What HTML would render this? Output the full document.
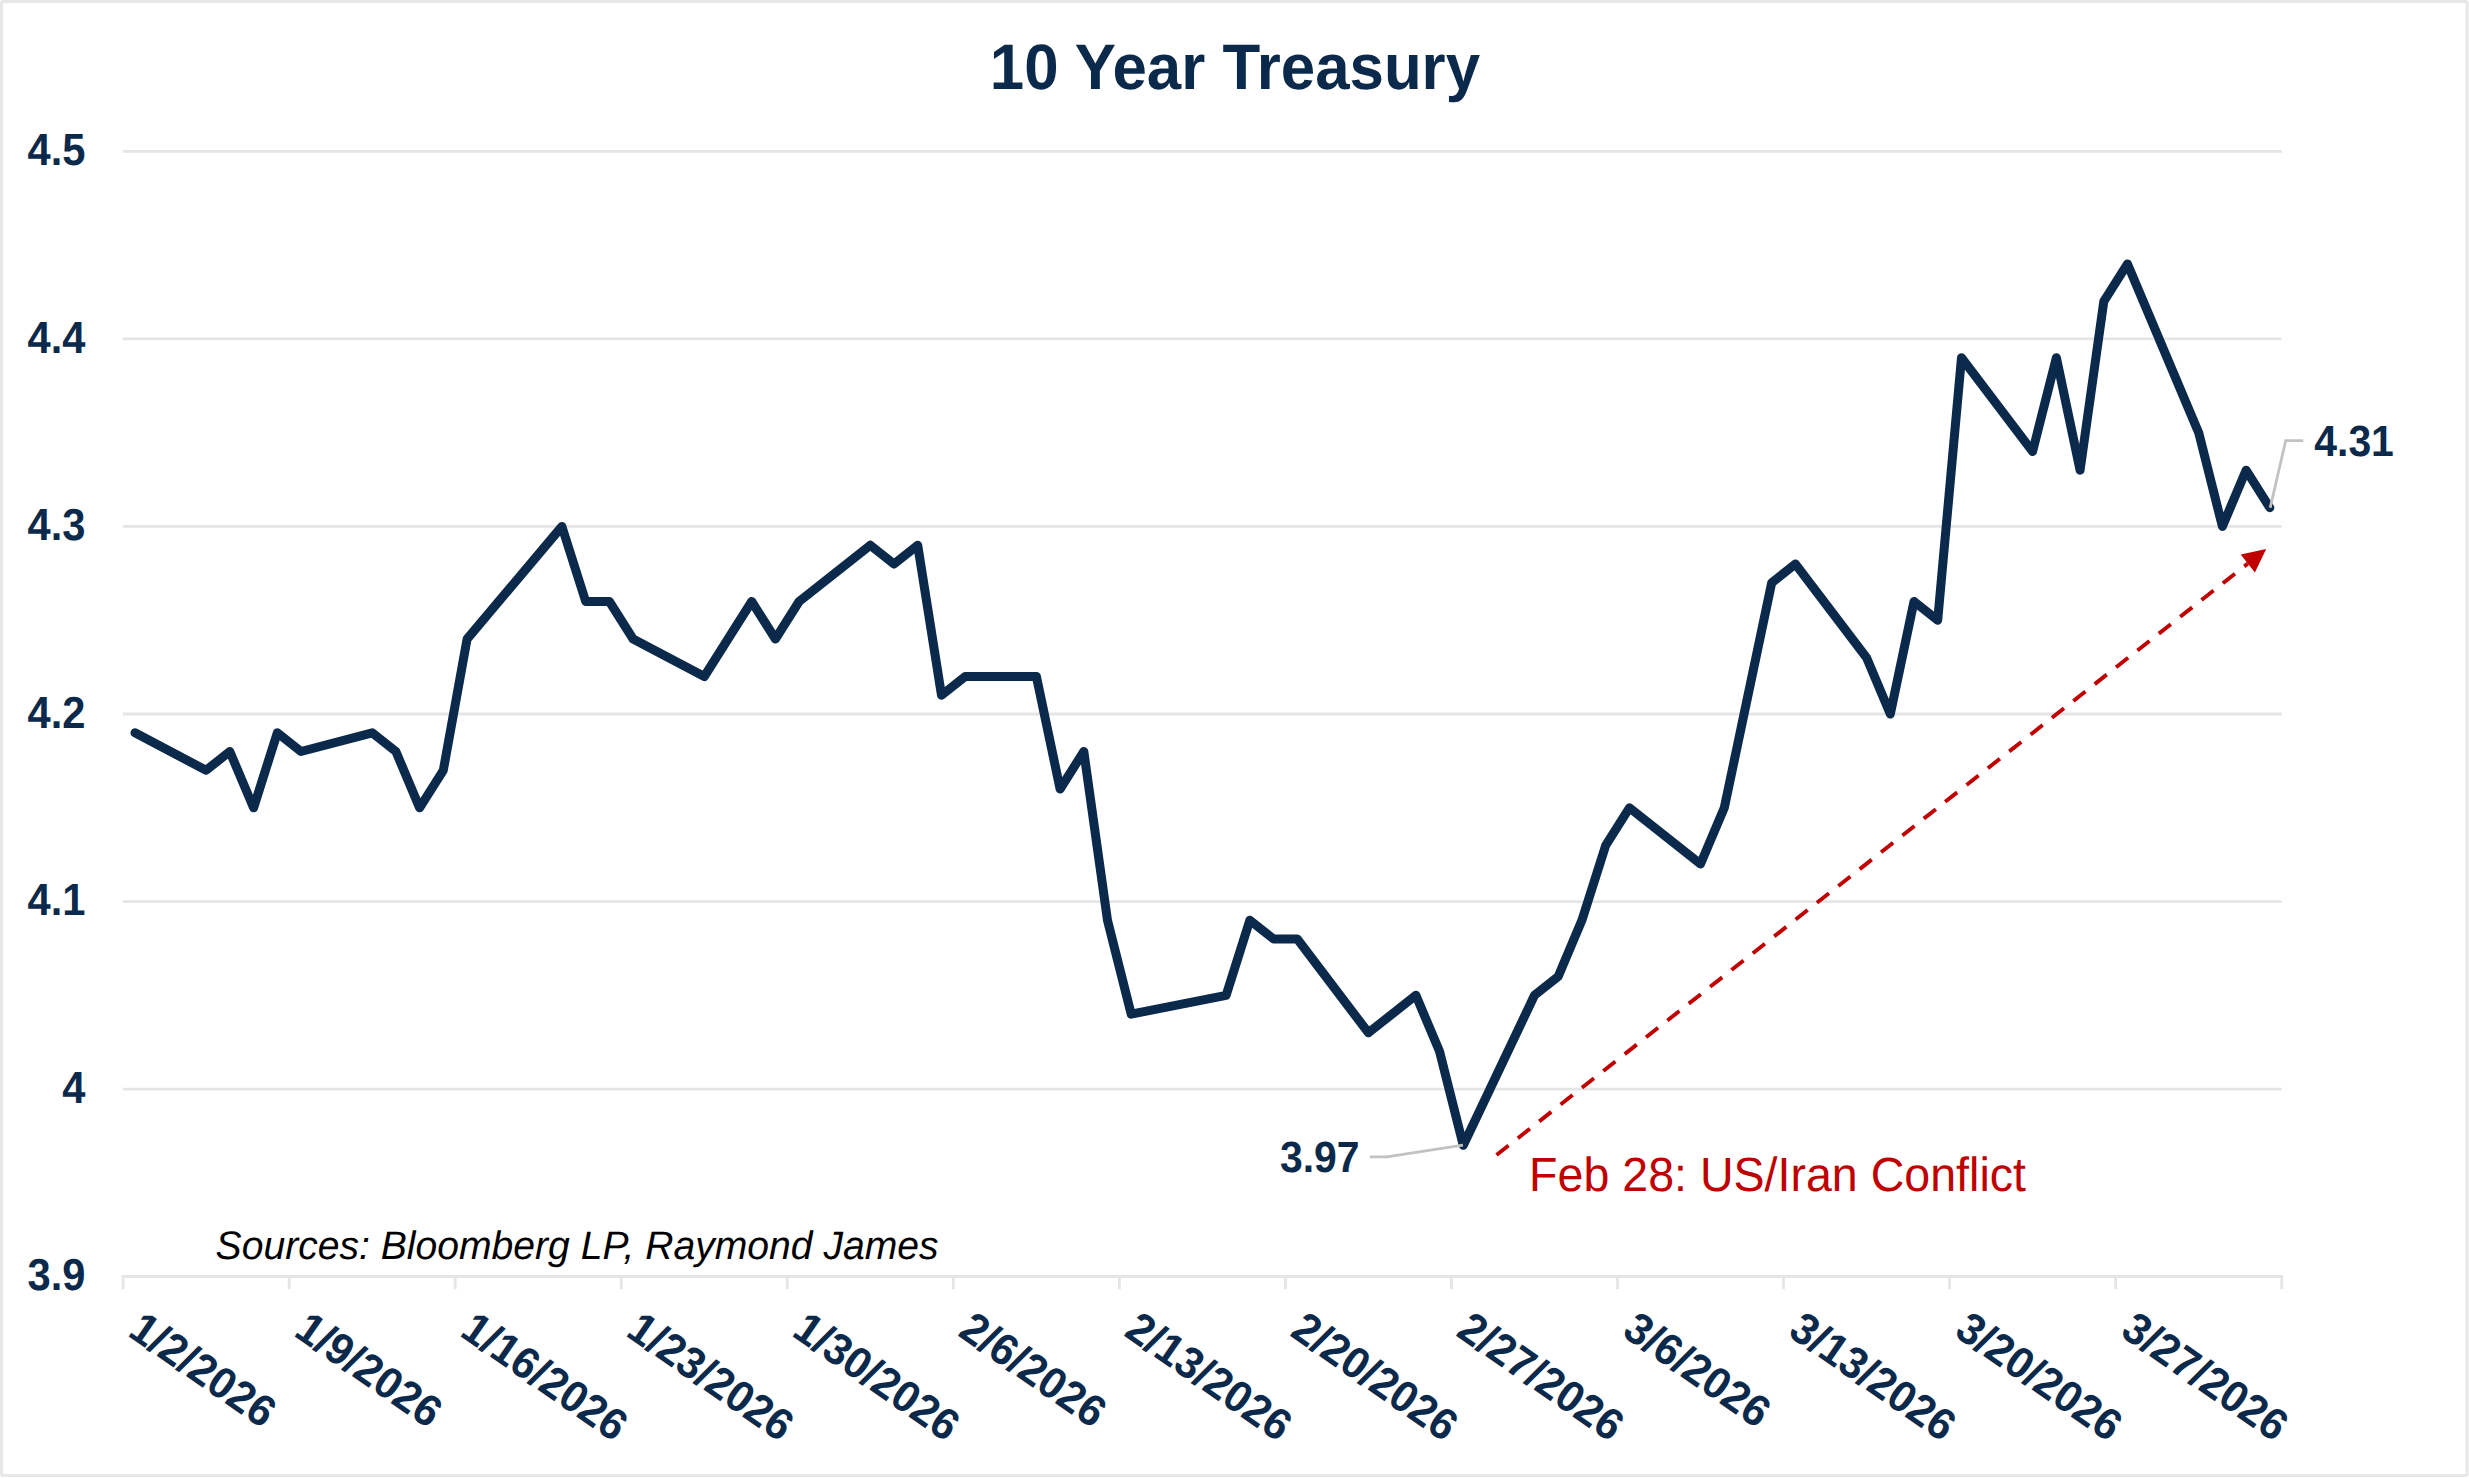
<!DOCTYPE html>
<html lang="en"><head><meta charset="utf-8"><title>10 Year Treasury</title>
<style>html,body{margin:0;padding:0;background:#fff;overflow:hidden}svg{display:block}text{font-family:"Liberation Sans",sans-serif;text-rendering:geometricPrecision}</style></head><body>
<svg width="2469" height="1478" viewBox="0 0 2469 1478">
<rect x="0" y="0" width="2469" height="1478" fill="#fff"/>
<rect x="1.5" y="1.5" width="2465.6" height="1474.1" fill="none" stroke="#e7e7e7" stroke-width="3" rx="1.5"/>
<line x1="122.9" x2="2281.7" y1="151.40" y2="151.40" stroke="#e5e5e5" stroke-width="2.8"/>
<line x1="122.9" x2="2281.7" y1="338.93" y2="338.93" stroke="#e5e5e5" stroke-width="2.8"/>
<line x1="122.9" x2="2281.7" y1="526.47" y2="526.47" stroke="#e5e5e5" stroke-width="2.8"/>
<line x1="122.9" x2="2281.7" y1="714.00" y2="714.00" stroke="#e5e5e5" stroke-width="2.8"/>
<line x1="122.9" x2="2281.7" y1="901.53" y2="901.53" stroke="#e5e5e5" stroke-width="2.8"/>
<line x1="122.9" x2="2281.7" y1="1089.07" y2="1089.07" stroke="#e5e5e5" stroke-width="2.8"/>
<line x1="121.7" x2="2283.1" y1="1276.60" y2="1276.60" stroke="#e5e5e5" stroke-width="3"/>
<line x1="123.10" x2="123.10" y1="1276.60" y2="1289.2" stroke="#e5e5e5" stroke-width="2.8"/>
<line x1="289.15" x2="289.15" y1="1276.60" y2="1289.2" stroke="#e5e5e5" stroke-width="2.8"/>
<line x1="455.19" x2="455.19" y1="1276.60" y2="1289.2" stroke="#e5e5e5" stroke-width="2.8"/>
<line x1="621.24" x2="621.24" y1="1276.60" y2="1289.2" stroke="#e5e5e5" stroke-width="2.8"/>
<line x1="787.28" x2="787.28" y1="1276.60" y2="1289.2" stroke="#e5e5e5" stroke-width="2.8"/>
<line x1="953.33" x2="953.33" y1="1276.60" y2="1289.2" stroke="#e5e5e5" stroke-width="2.8"/>
<line x1="1119.38" x2="1119.38" y1="1276.60" y2="1289.2" stroke="#e5e5e5" stroke-width="2.8"/>
<line x1="1285.42" x2="1285.42" y1="1276.60" y2="1289.2" stroke="#e5e5e5" stroke-width="2.8"/>
<line x1="1451.47" x2="1451.47" y1="1276.60" y2="1289.2" stroke="#e5e5e5" stroke-width="2.8"/>
<line x1="1617.52" x2="1617.52" y1="1276.60" y2="1289.2" stroke="#e5e5e5" stroke-width="2.8"/>
<line x1="1783.56" x2="1783.56" y1="1276.60" y2="1289.2" stroke="#e5e5e5" stroke-width="2.8"/>
<line x1="1949.61" x2="1949.61" y1="1276.60" y2="1289.2" stroke="#e5e5e5" stroke-width="2.8"/>
<line x1="2115.65" x2="2115.65" y1="1276.60" y2="1289.2" stroke="#e5e5e5" stroke-width="2.8"/>
<line x1="2281.70" x2="2281.70" y1="1276.60" y2="1289.2" stroke="#e5e5e5" stroke-width="2.8"/>
<text id="title" transform="translate(1234.95 89.00) scale(0.9627 1)" font-size="64.2" text-anchor="middle" font-weight="700" fill="#0b294a">10 Year Treasury</text>
<text class="yl" transform="translate(85.50 165.10) scale(0.9290 1)" font-size="44.9" text-anchor="end" font-weight="700" fill="#0b294a">4.5</text>
<text class="yl" transform="translate(85.50 352.63) scale(0.9290 1)" font-size="44.9" text-anchor="end" font-weight="700" fill="#0b294a">4.4</text>
<text class="yl" transform="translate(85.50 540.17) scale(0.9290 1)" font-size="44.9" text-anchor="end" font-weight="700" fill="#0b294a">4.3</text>
<text class="yl" transform="translate(85.50 727.70) scale(0.9290 1)" font-size="44.9" text-anchor="end" font-weight="700" fill="#0b294a">4.2</text>
<text class="yl" transform="translate(85.50 915.23) scale(0.9290 1)" font-size="44.9" text-anchor="end" font-weight="700" fill="#0b294a">4.1</text>
<text class="yl" transform="translate(85.50 1102.77) scale(0.9290 1)" font-size="44.9" text-anchor="end" font-weight="700" fill="#0b294a">4</text>
<text class="yl" transform="translate(85.50 1290.30) scale(0.9290 1)" font-size="44.9" text-anchor="end" font-weight="700" fill="#0b294a">3.9</text>
<text class="xl" transform="translate(126.40 1334.90) rotate(34.75) scale(0.9600 1)" font-size="44.3" font-weight="700" fill="#0b294a">1/2/2026</text>
<text class="xl" transform="translate(292.45 1334.90) rotate(34.75) scale(0.9600 1)" font-size="44.3" font-weight="700" fill="#0b294a">1/9/2026</text>
<text class="xl" transform="translate(458.49 1334.90) rotate(34.75) scale(0.9600 1)" font-size="44.3" font-weight="700" fill="#0b294a">1/16/2026</text>
<text class="xl" transform="translate(624.54 1334.90) rotate(34.75) scale(0.9600 1)" font-size="44.3" font-weight="700" fill="#0b294a">1/23/2026</text>
<text class="xl" transform="translate(790.58 1334.90) rotate(34.75) scale(0.9600 1)" font-size="44.3" font-weight="700" fill="#0b294a">1/30/2026</text>
<text class="xl" transform="translate(956.63 1334.90) rotate(34.75) scale(0.9600 1)" font-size="44.3" font-weight="700" fill="#0b294a">2/6/2026</text>
<text class="xl" transform="translate(1122.68 1334.90) rotate(34.75) scale(0.9600 1)" font-size="44.3" font-weight="700" fill="#0b294a">2/13/2026</text>
<text class="xl" transform="translate(1288.72 1334.90) rotate(34.75) scale(0.9600 1)" font-size="44.3" font-weight="700" fill="#0b294a">2/20/2026</text>
<text class="xl" transform="translate(1454.77 1334.90) rotate(34.75) scale(0.9600 1)" font-size="44.3" font-weight="700" fill="#0b294a">2/27/2026</text>
<text class="xl" transform="translate(1620.82 1334.90) rotate(34.75) scale(0.9600 1)" font-size="44.3" font-weight="700" fill="#0b294a">3/6/2026</text>
<text class="xl" transform="translate(1786.86 1334.90) rotate(34.75) scale(0.9600 1)" font-size="44.3" font-weight="700" fill="#0b294a">3/13/2026</text>
<text class="xl" transform="translate(1952.91 1334.90) rotate(34.75) scale(0.9600 1)" font-size="44.3" font-weight="700" fill="#0b294a">3/20/2026</text>
<text class="xl" transform="translate(2118.95 1334.90) rotate(34.75) scale(0.9600 1)" font-size="44.3" font-weight="700" fill="#0b294a">3/27/2026</text>
<polyline points="135.0,732.8 206.1,770.3 229.8,751.5 253.6,807.8 277.3,732.8 301.0,751.5 372.2,732.8 395.9,751.5 419.6,807.8 443.3,770.3 467.1,639.0 561.9,526.5 585.7,601.5 609.4,601.5 633.1,639.0 704.3,676.5 751.7,601.5 775.4,639.0 799.1,601.5 870.3,545.2 894.0,564.0 917.7,545.2 941.5,695.2 965.2,676.5 1036.4,676.5 1060.1,789.0 1083.8,751.5 1107.5,920.3 1131.2,1014.1 1226.1,995.3 1249.8,920.3 1273.6,939.0 1297.3,939.0 1368.4,1032.8 1415.9,995.3 1439.6,1051.6 1463.3,1145.3 1534.5,995.3 1558.2,976.5 1581.9,920.3 1605.7,845.3 1629.4,807.8 1700.5,864.0 1724.3,807.8 1771.7,582.7 1795.4,564.0 1866.6,657.7 1890.3,714.0 1914.0,601.5 1937.7,620.2 1961.5,357.7 2032.6,451.5 2056.4,357.7 2080.1,470.2 2103.8,301.4 2127.5,263.9 2198.7,432.7 2222.4,526.5 2246.1,470.2 2269.8,507.7" fill="none" stroke="#0b294a" stroke-width="9" stroke-linejoin="round" stroke-linecap="round"/>
<polyline points="1369.8,1156.9 1386.8,1156.9 1463.0,1145.2" fill="none" stroke="#c2c2c2" stroke-width="2.8"/>
<polyline points="2303.3,440.6 2285.7,440.6 2270.2,507.8" fill="none" stroke="#c2c2c2" stroke-width="2.8"/>
<text id="l397" transform="translate(1279.96 1172.05) scale(0.9380 1)" font-size="43.6" font-weight="700" fill="#0b294a">3.97</text>
<text id="l431" transform="translate(2314.28 455.90) scale(0.9380 1)" font-size="43.6" font-weight="700" fill="#0b294a">4.31</text>
<line x1="1496.5" y1="1155.0" x2="2247.8" y2="563.6" stroke="#c00000" stroke-width="3.9" stroke-dasharray="15.3 11.89"/>
<polygon points="2266.2,549.1 2254.9,572.6 2240.7,554.5" fill="#c00000"/>
<text id="feb" transform="translate(1529.08 1190.80) scale(0.9700 1)" font-size="48.0" fill="#c00000">Feb 28: US/Iran Conflict</text>
<text id="src" transform="translate(215.60 1258.90) scale(0.9825 1)" font-size="39.8" font-style="italic" fill="#000">Sources: Bloomberg LP, Raymond James</text>
</svg></body></html>
